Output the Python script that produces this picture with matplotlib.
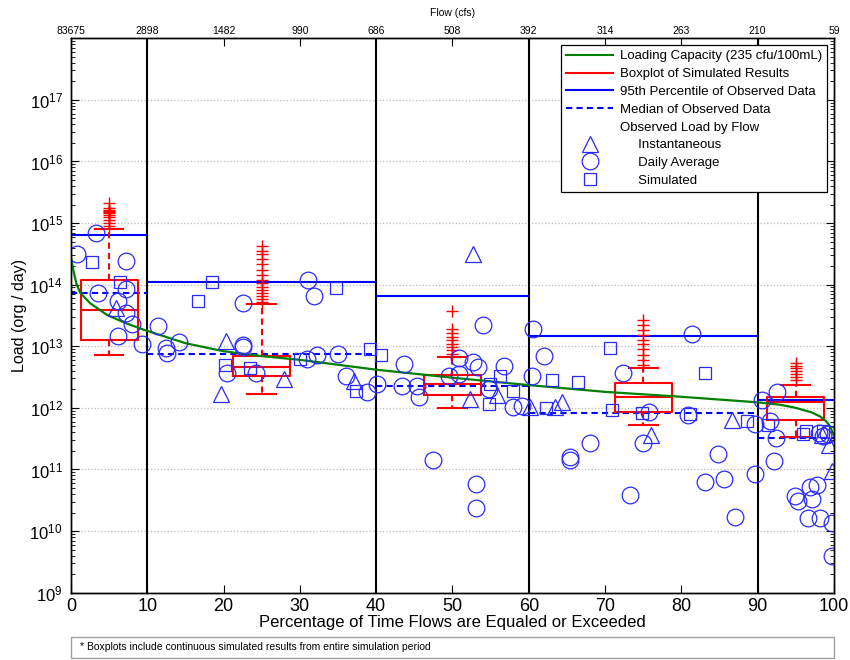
import numpy as np
import matplotlib.pyplot as plt
from matplotlib.lines import Line2D
from matplotlib.patches import Rectangle
from matplotlib.ticker import LogLocator, NullFormatter

plt.rcParams['font.family'] = ['Liberation Sans', 'DejaVu Sans']
plt.rcParams['mathtext.default'] = 'regular'

# all loads as log10(org / day)

# loading capacity curve (235 cfu/100mL)
cap_pct = [0, 0.3, 0.7, 1.2, 2.5, 4.7, 7.3, 9.5, 15, 20, 25, 30, 40, 50, 60, 70, 80, 90, 93, 95, 97, 98.2, 99, 99.5, 100]
cap_log10 = [14.45, 14.24, 14.02, 13.87, 13.70, 13.51, 13.37, 13.27, 13.05, 12.92, 12.84, 12.78, 12.62, 12.49,
             12.37, 12.26, 12.18, 12.09, 12.05, 12.00, 11.93, 11.86, 11.78, 11.70, 11.55]

# flow zones
zone_edges = [0, 10, 40, 60, 90, 100]
p95_log10 = [14.80, 14.05, 13.81, 13.16, 12.12]
median_log10 = [13.87, 12.87, 12.35, 11.91, 11.51]

# boxplots of simulated results
box_pos = [5, 25, 50, 75, 95]
box_whislo = [12.86, 12.23, 11.99, 11.73, 11.52]
box_q1 = [13.10, 12.51, 12.21, 11.93, 11.80]
box_med = [13.59, 12.66, 12.39, 12.18, 12.10]
box_q3 = [14.08, 12.84, 12.54, 12.40, 12.17]
box_whishi = [14.90, 13.69, 12.83, 12.64, 12.37]
box_fliers = [
    [14.95, 15.00, 15.05, 15.10, 15.13, 15.16, 15.18, 15.20, 15.22, 15.25, 15.32],
    [13.72, 13.76, 13.81, 13.86, 13.92, 13.97, 14.03, 14.08, 14.16, 14.24, 14.33, 14.41, 14.49, 14.55, 14.62],
    [12.88, 12.94, 12.99, 13.04, 13.10, 13.15, 13.21, 13.28, 13.57],
    [12.70, 12.78, 12.86, 12.95, 13.03, 13.11, 13.19, 13.27, 13.35, 13.43],
    [12.45, 12.50, 12.55, 12.60, 12.64, 12.68, 12.73],
]

# observed loads
inst_x = [5.9, 19.7, 20.3, 27.9, 37.1, 52.3, 52.7, 55.8, 60.2, 63.4, 64.3, 76.0, 86.6, 98.5, 99.3, 99.8]
inst_log10 = [13.62, 12.23, 13.08, 12.47, 12.43, 12.14, 14.50, 12.21, 12.02, 12.02, 12.10, 11.56, 11.81, 11.56,
              11.40, 10.97]

daily_x = [0.8, 3.3, 7.2, 3.5, 7.2, 6.2, 7.2, 8.0, 6.2, 9.3, 11.4, 12.5, 12.6, 14.1, 22.6, 22.5, 22.6, 20.5,
           24.2, 31.1, 31.8, 30.9, 32.3, 35.0, 36.1, 38.8, 40.1, 43.6, 43.4, 45.3, 45.6, 47.5, 54.0, 50.8, 52.7,
           53.4, 49.5, 50.8, 54.8, 56.7, 57.9, 59.1, 60.5, 62.0, 60.4, 53.1, 53.1, 65.4, 65.4, 68.0, 81.4, 72.4,
           75.7, 75.0, 73.3, 80.9, 84.8, 83.1, 85.6, 87.0, 89.6, 89.6, 90.6, 92.6, 91.6, 92.4, 92.1, 94.9, 95.3,
           96.9, 97.8, 97.1, 96.6, 98.2, 99.8, 99.8, 98.0, 99.2, 98.6]
daily_log10 = [14.50, 14.84, 14.39, 13.87, 13.93, 13.73, 13.54, 13.36, 13.16, 13.04, 13.33, 12.97, 12.89, 13.07,
               13.71, 13.02, 12.99, 12.57, 12.57, 14.08, 13.82, 12.79, 12.86, 12.87, 12.51, 12.26, 12.38, 12.71,
               12.35, 12.35, 12.18, 11.16, 13.35, 12.81, 12.74, 12.67, 12.51, 12.55, 12.30, 12.68, 12.02, 12.03,
               13.28, 12.84, 12.51, 10.77, 10.38, 11.20, 11.15, 11.43, 13.20, 12.57, 11.94, 11.43, 10.59, 11.89,
               11.25, 10.79, 10.84, 10.23, 10.92, 11.74, 12.13, 12.26, 11.78, 11.51, 11.14, 10.57, 10.49, 10.72,
               10.74, 10.52, 10.21, 10.22, 10.13, 9.59, 11.60, 11.58, 11.55]

sim_x = [2.8, 6.4, 16.6, 18.5, 20.2, 23.4, 30.0, 34.7, 39.2, 40.6, 37.4, 54.9, 56.2, 57.9, 54.8, 63.0, 66.4,
         70.6, 62.3, 70.9, 83.1, 74.8, 81.1, 88.6, 91.4, 96.4, 98.6, 96.0]
sim_log10 = [14.37, 14.05, 13.74, 14.05, 12.70, 12.65, 12.80, 13.95, 12.95, 12.86, 12.27, 12.39, 12.51, 12.28,
             12.07, 12.45, 12.42, 12.97, 12.00, 11.97, 12.57, 11.91, 11.90, 11.78, 11.72, 11.62, 11.62, 11.58]

# top axis: flow at each percentile
flow_pct = [0, 10, 20, 30, 40, 50, 60, 70, 80, 90, 100]
flow_labels = ['83675', '2898', '1482', '990', '686', '508', '392', '314', '263', '210', '59']

RED = '#ff0000'
BLUE = '#0000ff'
MARK = '#2a2aff'
GREEN = '#008000'

fig = plt.figure(figsize=(8.5, 6.6), dpi=100)
ax = fig.add_axes([0.0835, 0.102, 0.8976, 0.840])
ax.set_yscale('log')
ax.set_xlim(0, 100)
ax.set_ylim(1e9, 1e18)

ax.yaxis.grid(True, which='major', linestyle=':', color='#bbbbbb', linewidth=0.9)
ax.set_axisbelow(True)

for xv in zone_edges[1:-1]:
    ax.axvline(xv, color='black', lw=1.5, zorder=1)

for i in range(len(p95_log10)):
    ax.hlines(10 ** p95_log10[i], zone_edges[i], zone_edges[i + 1], color=BLUE, lw=1.5, zorder=2)
    ax.hlines(10 ** median_log10[i], zone_edges[i], zone_edges[i + 1], color=BLUE, lw=1.5,
              linestyles=(0, (3, 2)), zorder=2)

ax.plot(cap_pct, 10 ** np.array(cap_log10), color=GREEN, lw=1.6, zorder=3)

stats = []
for i in range(len(box_pos)):
    stats.append({
        'whislo': 10 ** box_whislo[i], 'q1': 10 ** box_q1[i], 'med': 10 ** box_med[i],
        'q3': 10 ** box_q3[i], 'whishi': 10 ** box_whishi[i],
        'fliers': 10 ** np.array(box_fliers[i]),
    })
ax.bxp(stats, positions=box_pos, widths=7.5, manage_ticks=False,
       boxprops=dict(color=RED, lw=1.5),
       medianprops=dict(color=RED, lw=1.5),
       whiskerprops=dict(color=RED, lw=1.5, linestyle=(0, (3, 2))),
       capprops=dict(color=RED, lw=1.5),
       flierprops=dict(marker='+', markeredgecolor=RED, markersize=9, markeredgewidth=1.0))

ax.plot(inst_x, 10 ** np.array(inst_log10), ls='none', marker='^', ms=12, mfc='none', mec=MARK, mew=0.9, zorder=4)
ax.plot(daily_x, 10 ** np.array(daily_log10), ls='none', marker='o', ms=12, mfc='none', mec=MARK, mew=0.9, zorder=4)
ax.plot(sim_x, 10 ** np.array(sim_log10), ls='none', marker='s', ms=9, mfc='none', mec=MARK, mew=0.9, zorder=4)

ax.set_xticks(range(0, 101, 10))
ax.set_yticks([10.0 ** e for e in range(9, 18)])
ax.yaxis.set_minor_locator(LogLocator(base=10, subs=np.arange(2, 10), numticks=20))
ax.yaxis.set_minor_formatter(NullFormatter())
ax.set_ylim(1e9, 1e18)
ax.tick_params(axis='both', which='major', direction='in', length=6, labelsize=13, right=True, top=False)
ax.tick_params(axis='y', which='minor', direction='in', length=3, right=True)
ax.tick_params(axis='y', which='major', labelsize=12, pad=6)
ax.tick_params(axis='x', which='major', pad=4)

ax.set_xlabel('Percentage of Time Flows are Equaled or Exceeded', fontsize=12, labelpad=0)
ax.set_ylabel('Load (org / day)', fontsize=11.5, labelpad=2)

ax2 = ax.twiny()
ax2.set_xlim(0, 100)
ax2.set_xticks(flow_pct)
ax2.set_xticklabels(flow_labels)
ax2.tick_params(axis='x', direction='in', length=6, labelsize=7.5, pad=2)
ax2.set_xlabel('Flow (cfs)', fontsize=7.5, labelpad=7)

for sp in list(ax.spines.values()) + list(ax2.spines.values()):
    sp.set_linewidth(1.0)

handles = [
    Line2D([], [], color=GREEN, lw=1.5),
    Line2D([], [], color=RED, lw=1.5),
    Line2D([], [], color=BLUE, lw=1.5),
    Line2D([], [], color=BLUE, lw=1.5, linestyle=(0, (3, 2))),
    Line2D([], [], linestyle='none'),
    Line2D([], [], ls='none', marker='^', ms=12, mfc='none', mec=MARK, mew=0.9),
    Line2D([], [], ls='none', marker='o', ms=12, mfc='none', mec=MARK, mew=0.9),
    Line2D([], [], ls='none', marker='s', ms=9, mfc='none', mec=MARK, mew=0.9),
]
labels = [
    'Loading Capacity (235 cfu/100mL)',
    'Boxplot of Simulated Results',
    '95th Percentile of Observed Data',
    'Median of Observed Data',
    'Observed Load by Flow',
    '     Instantaneous',
    '     Daily Average',
    '     Simulated',
]
leg = ax2.legend(handles, labels, loc='upper right', fontsize=9.5, frameon=True, fancybox=False,
                 framealpha=1, edgecolor='black', handlelength=3.6, handletextpad=0.5,
                 borderaxespad=0.5, labelspacing=0.42, borderpad=0.4)
leg.get_frame().set_linewidth(0.9)

fig.patches.append(Rectangle((71 / 850, 1 - 658 / 660), (834 - 71) / 850, 21 / 660,
                             transform=fig.transFigure, fill=False, edgecolor='#a0a0a0', lw=1.0))
fig.text(80 / 850, 1 - 647.5 / 660,
         '* Boxplots include continuous simulated results from entire simulation period',
         fontsize=7.5, va='center', ha='left')

fig.savefig('out.png', dpi=100)
